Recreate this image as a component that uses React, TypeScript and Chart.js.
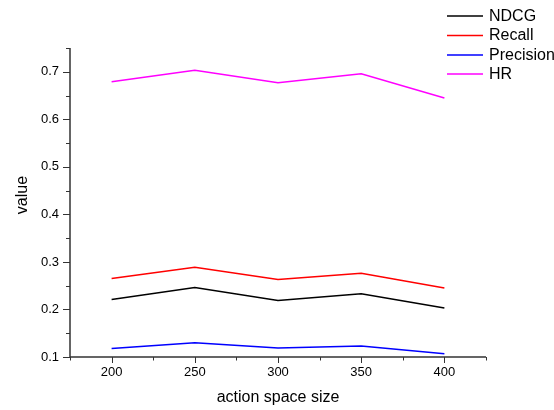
import { useEffect, useRef } from 'react';
import { Chart, registerables } from 'chart.js';

Chart.register(...registerables);

const actionSizes = [200, 250, 300, 350, 400];
const ndcg = [0.221, 0.246, 0.219, 0.233, 0.203];
const recall = [0.265, 0.289, 0.263, 0.276, 0.245];
const precision = [0.118, 0.13, 0.119, 0.123, 0.107];
const hr = [0.679, 0.703, 0.677, 0.696, 0.645];

const seriesNames = ['NDCG', 'Recall', 'Precision', 'HR'];
const seriesColors = ['#000000', '#ff0000', '#0000ff', '#ff00ff'];

const xMajorTicks = [200, 250, 300, 350, 400];
const xMinorTicks = [175, 225, 275, 325, 375, 425];
const yMajorTicks = [0.1, 0.2, 0.3, 0.4, 0.5, 0.6, 0.7];
const yMinorTicks = [0.15, 0.25, 0.35, 0.45, 0.55, 0.65, 0.75];

const xTitle = 'action space size';
const yTitle = 'value';

const FONT = '"Liberation Sans", Arial, sans-serif';

const axisPlugin = {
  id: 'axisPlugin',
  afterDraw(chart: any) {
    const ctx = chart.ctx;
    const xs = chart.scales.x;
    const ys = chart.scales.y;
    const { left, right, top, bottom } = chart.chartArea;
    ctx.save();
    ctx.strokeStyle = '#333333';
    ctx.lineWidth = 1.5;
    ctx.beginPath();
    ctx.moveTo(left, top);
    ctx.lineTo(left, bottom + 1);
    ctx.moveTo(left, bottom);
    ctx.lineTo(right, bottom);
    ctx.stroke();
    ctx.lineWidth = 1;
    ctx.beginPath();
    for (const v of yMajorTicks) {
      const y = Math.round(ys.getPixelForValue(v)) + 0.5;
      ctx.moveTo(left - 7, y);
      ctx.lineTo(left, y);
    }
    for (const v of yMinorTicks) {
      const y = Math.round(ys.getPixelForValue(v)) + 0.5;
      ctx.moveTo(left - 4, y);
      ctx.lineTo(left, y);
    }
    for (const v of xMajorTicks) {
      const x = Math.round(xs.getPixelForValue(v)) + 0.5;
      ctx.moveTo(x, bottom);
      ctx.lineTo(x, bottom + 6);
    }
    for (const v of xMinorTicks) {
      const x = Math.round(xs.getPixelForValue(v)) + 0.5;
      ctx.moveTo(x, bottom);
      ctx.lineTo(x, bottom + 3.5);
    }
    ctx.stroke();

    // axis titles
    ctx.fillStyle = '#000';
    ctx.font = `16px ${FONT}`;
    ctx.textAlign = 'center';
    ctx.textBaseline = 'middle';
    ctx.fillText(xTitle, (left + right) / 2, 398);
    ctx.save();
    ctx.translate(23, 195);
    ctx.rotate(-Math.PI / 2);
    ctx.fillText(yTitle, 0, 0);
    ctx.restore();

    // legend
    ctx.textAlign = 'left';
    ctx.font = `16px ${FONT}`;
    const rowY = [16, 35.5, 55, 74];
    seriesNames.forEach((name, i) => {
      ctx.strokeStyle = seriesColors[i];
      ctx.lineWidth = 1.5;
      ctx.beginPath();
      ctx.moveTo(447, rowY[i]);
      ctx.lineTo(483, rowY[i]);
      ctx.stroke();
      ctx.fillStyle = '#000';
      ctx.fillText(name, 489, rowY[i] + 0.5);
    });
    ctx.restore();
  },
};

export default function App() {
  const ref = useRef<HTMLCanvasElement | null>(null);
  useEffect(() => {
    if (!ref.current) return;
    const seriesValues = [ndcg, recall, precision, hr];
    const chart = new Chart(ref.current, {
      type: 'line',
      data: {
        datasets: seriesNames.map((name, i) => ({
          label: name,
          data: actionSizes.map((x, j) => ({ x, y: seriesValues[i][j] })),
          borderColor: seriesColors[i],
          backgroundColor: seriesColors[i],
          borderWidth: 1.5,
          pointRadius: 0,
          tension: 0,
          fill: false,
        })),
      },
      options: {
        animation: false,
        responsive: false,
        devicePixelRatio: 1,
        layout: { padding: { top: 48, right: 68, left: 0, bottom: 0 } },
        plugins: { legend: { display: false }, tooltip: { enabled: false } },
        scales: {
          x: {
            type: 'linear',
            min: 175,
            max: 425,
            afterBuildTicks: (s: any) => {
              s.ticks = xMajorTicks.map((v) => ({ value: v }));
            },
            afterFit: (s: any) => {
              s.height = 53;
            },
            grid: { display: false, drawTicks: false },
            border: { display: false },
            ticks: {
              padding: 8,
              color: '#000',
              font: { family: FONT, size: 13 },
              maxRotation: 0,
              callback: (v: any) => String(v),
            },
          },
          y: {
            type: 'linear',
            min: 0.1,
            max: 0.75,
            afterBuildTicks: (s: any) => {
              s.ticks = yMajorTicks.map((v) => ({ value: v }));
            },
            afterFit: (s: any) => {
              s.width = 70;
            },
            grid: { display: false, drawTicks: false },
            border: { display: false },
            ticks: {
              padding: 11,
              color: '#000',
              font: { family: FONT, size: 13 },
              callback: (v: any) => Number(v).toFixed(1),
            },
          },
        },
      },
      plugins: [axisPlugin],
    });
    return () => chart.destroy();
  }, []);
  return (
    <div style={{ position: 'absolute', left: 0, top: 0, width: 554, height: 410, background: '#fff' }}>
      <canvas ref={ref} width={554} height={410} />
    </div>
  );
}
